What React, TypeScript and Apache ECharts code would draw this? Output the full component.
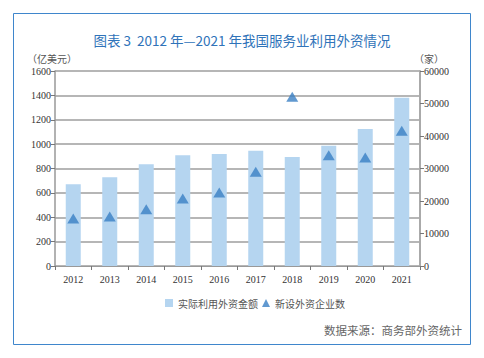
import React, { useEffect, useRef } from "react";
import * as echarts from "echarts";

const years = ["2012", "2013", "2014", "2015", "2016", "2017", "2018", "2019", "2020", "2021"];
const actualUse = [670, 728, 834, 908, 919, 946, 894, 987, 1124, 1381];
const newEnterprises = [14600, 15200, 17500, 20800, 22600, 29000, 52100, 34100, 33400, 41600];
const title = "图表 3  2012 年—2021 年我国服务业利用外资情况";
const leftUnit = "（亿美元）";
const rightUnit = "（家）";
const source = "数据来源：商务部外资统计";
const seriesNames = ["实际利用外资金额", "新设外资企业数"];

export default function App() {
  const ref = useRef<HTMLDivElement>(null);
  useEffect(() => {
    const chart = echarts.init(ref.current!, null, { renderer: "svg" });
    const axisFont = { fontFamily: "Liberation Serif", fontSize: 10, color: "#333" };
    chart.setOption({
      animation: false,
      backgroundColor: "#fff",
      grid: { left: 55, right: 64, top: 71, bottom: 92 },
      title: {
        text: title,
        left: "center",
        top: 28,
        textStyle: { color: "#2f73b9", fontSize: 13.5, fontWeight: "normal", fontFamily: "Noto Sans CJK SC" },
      },
      legend: {
        data: [
          { name: seriesNames[0], icon: "rect" },
          { name: seriesNames[1], icon: "triangle" },
        ],
        left: 160,
        top: 293,
        itemWidth: 8,
        itemHeight: 8,
        itemGap: 4,
        textStyle: { fontSize: 10, color: "#555", fontFamily: "Noto Sans CJK SC" },
      },
      graphic: [
        {
          type: "rect",
          shape: { x: 13.5, y: 13.5, width: 457, height: 331 },
          style: { fill: "none", stroke: "#3f86cc", lineWidth: 1 },
        },
        {
          type: "text",
          x: 27,
          y: 53,
          style: { text: leftUnit, fontSize: 10, fill: "#555", fontFamily: "Noto Sans CJK SC" },
        },
        {
          type: "text",
          x: 414,
          y: 53,
          style: { text: rightUnit, fontSize: 10, fill: "#555", fontFamily: "Noto Sans CJK SC" },
        },
        {
          type: "text",
          right: 22,
          y: 324,
          style: { text: source, fontSize: 11.5, fill: "#666", fontFamily: "Noto Sans CJK SC" },
        },
      ],
      xAxis: {
        type: "category",
        data: years,
        axisLine: { lineStyle: { color: "#999", width: 1 } },
        axisTick: { show: true, alignWithLabel: false, length: 4, lineStyle: { color: "#777" } },
        axisLabel: { ...axisFont, margin: 8 },
      },
      yAxis: [
        {
          type: "value",
          min: 0,
          max: 1600,
          interval: 200,
          axisLine: { show: true, lineStyle: { color: "#999", width: 1.5 } },
          axisTick: { show: true, length: 4, lineStyle: { color: "#777" } },
          axisLabel: { ...axisFont, margin: 4, formatter: (v: number) => String(v) },
          splitLine: { lineStyle: { color: "#9e9e9e", width: 1.5 } },
        },
        {
          type: "value",
          min: 0,
          max: 60000,
          interval: 10000,
          axisLine: { show: true, lineStyle: { color: "#aaa", width: 2 } },
          axisTick: { show: true, length: 4, lineStyle: { color: "#777" } },
          axisLabel: { ...axisFont, margin: 4, formatter: (v: number) => String(v) },
          splitLine: { show: false },
        },
      ],
      series: [
        {
          name: seriesNames[0],
          type: "bar",
          data: actualUse,
          barWidth: 15,
          itemStyle: { color: "#b5d5f0" },
          z: 2,
        },
        {
          name: seriesNames[1],
          type: "scatter",
          yAxisIndex: 1,
          data: newEnterprises,
          symbol: "triangle",
          symbolSize: [12, 10],
          itemStyle: { color: "#3a7fc4" },
          z: 3,
        },
      ],
    });
    return () => chart.dispose();
  }, []);
  return <div ref={ref} style={{ position: "absolute", left: 0, top: 0, width: 484, height: 358 }} />;
}
